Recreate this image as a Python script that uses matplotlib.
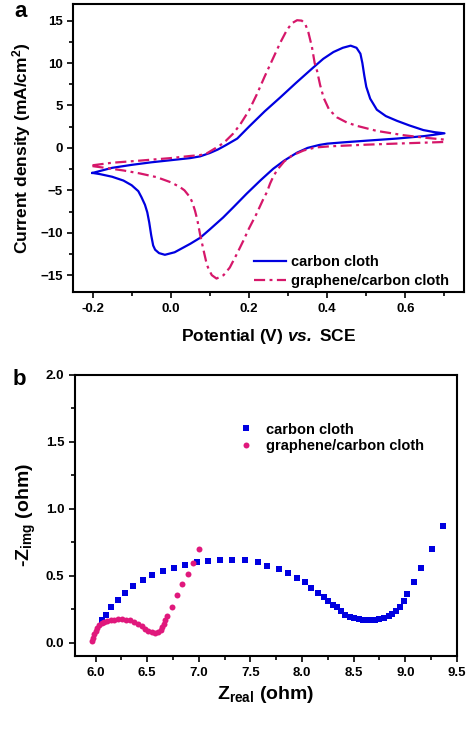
import matplotlib
matplotlib.use("Agg")
import matplotlib.pyplot as plt
from matplotlib.ticker import MultipleLocator

plt.rcParams["font.family"] = ["Liberation Sans", "DejaVu Sans"]
plt.rcParams["font.weight"] = "bold"
plt.rcParams["axes.labelweight"] = "bold"
plt.rcParams["mathtext.fontset"] = "custom"
plt.rcParams["mathtext.rm"] = "Liberation Sans:bold"
plt.rcParams["mathtext.bf"] = "Liberation Sans:bold"
plt.rcParams["mathtext.it"] = "Liberation Sans:italic:bold"
plt.rcParams["mathtext.bfit"] = "Liberation Sans:italic:bold"

BLUE = "#0000e0"
PINK = "#d6176a"
PINK_DOT = "#e0187c"

# --- (a) cyclic voltammetry ---
# carbon cloth: anodic scan -0.2 -> 0.7 V, then cathodic scan back
cc_fwd_E = [-0.20, -0.15, -0.10, -0.05, 0.00, 0.05, 0.075, 0.10, 0.12, 0.14, 0.17,
            0.20, 0.24, 0.28, 0.32, 0.365, 0.39, 0.416, 0.44, 0.46, 0.475, 0.485,
            0.49, 0.495, 0.50, 0.51, 0.527, 0.55, 0.578, 0.61, 0.646, 0.675, 0.70]
cc_fwd_j = [-2.95, -2.35, -2.0, -1.7, -1.45, -1.2, -1.0, -0.6, -0.2, 0.3, 1.1,
            2.5, 4.3, 5.95, 7.65, 9.5, 10.5, 11.3, 11.8, 12.05, 11.8, 11.1,
            10.0, 8.5, 7.2, 5.8, 4.5, 3.75, 3.2, 2.65, 2.1, 1.85, 1.72]
cc_rev_E = [0.70, 0.65, 0.578, 0.50, 0.44, 0.40, 0.38, 0.35, 0.323, 0.29, 0.262,
            0.23, 0.194, 0.16, 0.134, 0.10, 0.075, 0.05, 0.032, 0.01, -0.015,
            -0.03, -0.04, -0.045, -0.05, -0.055, -0.06, -0.066, -0.075, -0.083,
            -0.10, -0.121, -0.15, -0.18, -0.20]
cc_rev_j = [1.72, 1.4, 1.1, 0.85, 0.65, 0.5, 0.35, 0.0, -0.56, -1.5, -2.46,
            -3.8, -5.4, -7.0, -8.2, -9.6, -10.6, -11.3, -11.75, -12.3, -12.6,
            -12.4, -12.0, -11.5, -10.3, -8.8, -7.6, -6.7, -5.8, -5.1,
            -4.4, -3.85, -3.4, -3.1, -2.95]

# graphene/carbon cloth
gc_fwd_E = [-0.20, -0.15, -0.079, 0.00, 0.05, 0.075, 0.092, 0.11, 0.126, 0.14, 0.16,
            0.178, 0.20, 0.22, 0.24, 0.263, 0.28, 0.297, 0.31, 0.323, 0.335, 0.344,
            0.352, 0.361, 0.368, 0.374, 0.382, 0.391, 0.405, 0.425, 0.45, 0.476,
            0.527, 0.595, 0.65, 0.70]
gc_fwd_j = [-2.05, -1.75, -1.5, -1.2, -0.95, -0.85, -0.65, -0.15, 0.3, 0.8, 1.7,
            2.8, 4.4, 6.3, 8.4, 10.7, 12.4, 13.9, 14.7, 15.05, 15.0, 14.6,
            13.6, 11.9, 10.0, 9.1, 7.4, 5.9, 4.5, 3.6, 3.0, 2.6,
            2.0, 1.5, 1.2, 0.98]
gc_rev_E = [0.70, 0.70, 0.65, 0.578, 0.50, 0.408, 0.37, 0.34, 0.31, 0.29, 0.272,
            0.262, 0.254, 0.246, 0.237, 0.219, 0.20, 0.185, 0.169, 0.151, 0.135,
            0.117, 0.105, 0.097, 0.092, 0.085, 0.075, 0.068, 0.062, 0.055, 0.049,
            0.035, 0.023, 0.00, -0.036, -0.08, -0.121, -0.16, -0.20]
gc_rev_j = [0.98, 0.7, 0.62, 0.51, 0.38, 0.19, 0.05, -0.3, -0.9, -1.6, -2.6,
            -3.4, -4.2, -5.2, -6.0, -7.8, -9.5, -11.0, -12.5, -14.1, -15.0,
            -15.4, -15.0, -14.3, -13.7, -12.3, -10.2, -8.5, -7.4, -6.4, -5.8,
            -5.0, -4.6, -4.05, -3.45, -3.0, -2.66, -2.4, -2.15]

# --- (b) Nyquist plot ---
cc_zre = [6.058, 6.097, 6.152, 6.22, 6.288, 6.365, 6.459, 6.543, 6.656, 6.762,
          6.866, 6.98, 7.091, 7.206, 7.325, 7.45, 7.577, 7.664, 7.778, 7.868,
          7.951, 8.032, 8.085, 8.159, 8.208, 8.25, 8.298, 8.343, 8.376, 8.418,
          8.46, 8.505, 8.547, 8.589, 8.628, 8.667, 8.708, 8.75, 8.789, 8.838,
          8.875, 8.909, 8.945, 8.983, 9.016, 9.08, 9.151, 9.258, 9.361]
cc_zim = [0.17, 0.21, 0.266, 0.32, 0.374, 0.427, 0.47, 0.505, 0.538, 0.56,
          0.578, 0.60, 0.612, 0.619, 0.616, 0.614, 0.603, 0.574, 0.548, 0.517,
          0.484, 0.45, 0.411, 0.375, 0.341, 0.311, 0.281, 0.264, 0.234, 0.209,
          0.192, 0.187, 0.179, 0.172, 0.167, 0.167, 0.172, 0.177, 0.187, 0.202,
          0.215, 0.234, 0.266, 0.311, 0.363, 0.451, 0.56, 0.702, 0.872]
gc_zre = [5.968, 5.977, 5.986, 6.0, 6.016, 6.036, 6.058, 6.084, 6.113, 6.146,
          6.181, 6.22, 6.258, 6.297, 6.336, 6.375, 6.414, 6.446, 6.478, 6.511,
          6.543, 6.575, 6.608, 6.634, 6.647, 6.66, 6.673, 6.689, 6.737, 6.786,
          6.841, 6.893, 6.947, 7.005]
gc_zim = [0.012, 0.037, 0.062, 0.087, 0.11, 0.13, 0.145, 0.157, 0.164, 0.169,
          0.172, 0.174, 0.174, 0.172, 0.167, 0.157, 0.142, 0.122, 0.102, 0.087,
          0.077, 0.072, 0.077, 0.092, 0.117, 0.142, 0.167, 0.197, 0.266, 0.354,
          0.441, 0.516, 0.598, 0.702]


def style_axes(ax):
    for s in ax.spines.values():
        s.set_linewidth(1.5)
    ax.tick_params(which="both", direction="out", width=1.2, labelsize=9.5, pad=3)
    ax.tick_params(which="major", length=4.5)
    ax.tick_params(which="minor", length=3)


fig = plt.figure(figsize=(4.74, 7.34), dpi=100)

# panel a
ax1 = fig.add_axes([0.154, 0.602, 0.825, 0.393])
ax1.plot(cc_fwd_E + cc_rev_E, cc_fwd_j + cc_rev_j, color=BLUE, lw=1.6,
         solid_joinstyle="round", label="carbon cloth")
ax1.plot(gc_fwd_E + gc_rev_E, gc_fwd_j + gc_rev_j, color=PINK, lw=1.6,
         linestyle=(0, (5, 2, 1.3, 2)), label="graphene/carbon cloth")
ax1.set_xlim(-0.25, 0.75)
ax1.set_ylim(-17, 17)
ax1.xaxis.set_minor_locator(MultipleLocator(0.1))
ax1.yaxis.set_major_locator(MultipleLocator(5))
ax1.yaxis.set_minor_locator(MultipleLocator(2.5))
ax1.set_xticks([-0.2, 0.0, 0.2, 0.4, 0.6])
ax1.set_xticklabels(["-0.2", "0.0", "0.2", "0.4", "0.6"])
style_axes(ax1)
ax1.set_xlabel(r"Potential (V) $\mathbfit{vs.}$ SCE", fontsize=12.5, labelpad=9)
ax1.set_ylabel(r"Current density (mA/cm$^{\mathbf{2}}$)", fontsize=12.5, labelpad=5)
ax1.legend(loc="lower left", bbox_to_anchor=(0.462, 0.015), frameon=False,
           fontsize=10.5, handlelength=2.2, handletextpad=0.35, labelspacing=0.35,
           borderpad=0, borderaxespad=0)
fig.text(0.03, 0.998, "a", fontsize=16, fontweight="bold", va="top", ha="left")

# panel b
ax2 = fig.add_axes([0.158, 0.106, 0.806, 0.3835])
ax2.plot(cc_zre, cc_zim, "s", color=BLUE, ms=4, mew=0, label="carbon cloth")
ax2.plot(gc_zre, gc_zim, "o", color=PINK_DOT, ms=4.3, mew=0,
         label="graphene/carbon cloth")
ax2.set_xlim(5.8, 9.5)
ax2.set_ylim(-0.1, 2.0)
ax2.xaxis.set_major_locator(MultipleLocator(0.5))
ax2.xaxis.set_minor_locator(MultipleLocator(0.25))
ax2.yaxis.set_major_locator(MultipleLocator(0.5))
ax2.yaxis.set_minor_locator(MultipleLocator(0.25))
style_axes(ax2)
ax2.set_xlabel(r"$\mathbf{Z_{real}}$ (ohm)", fontsize=14, labelpad=4)
ax2.set_ylabel(r"-$\mathbf{Z_{img}}$ (ohm)", fontsize=14, labelpad=6)
ax2.legend(loc="upper left", bbox_to_anchor=(0.43, 0.83), frameon=False,
           fontsize=10.5, handlelength=1.0, handletextpad=0.85, labelspacing=0.2,
           borderpad=0, borderaxespad=0)
fig.text(0.026, 0.497, "b", fontsize=16, fontweight="bold", va="top", ha="left")

fig.savefig("out.png", dpi=100)
